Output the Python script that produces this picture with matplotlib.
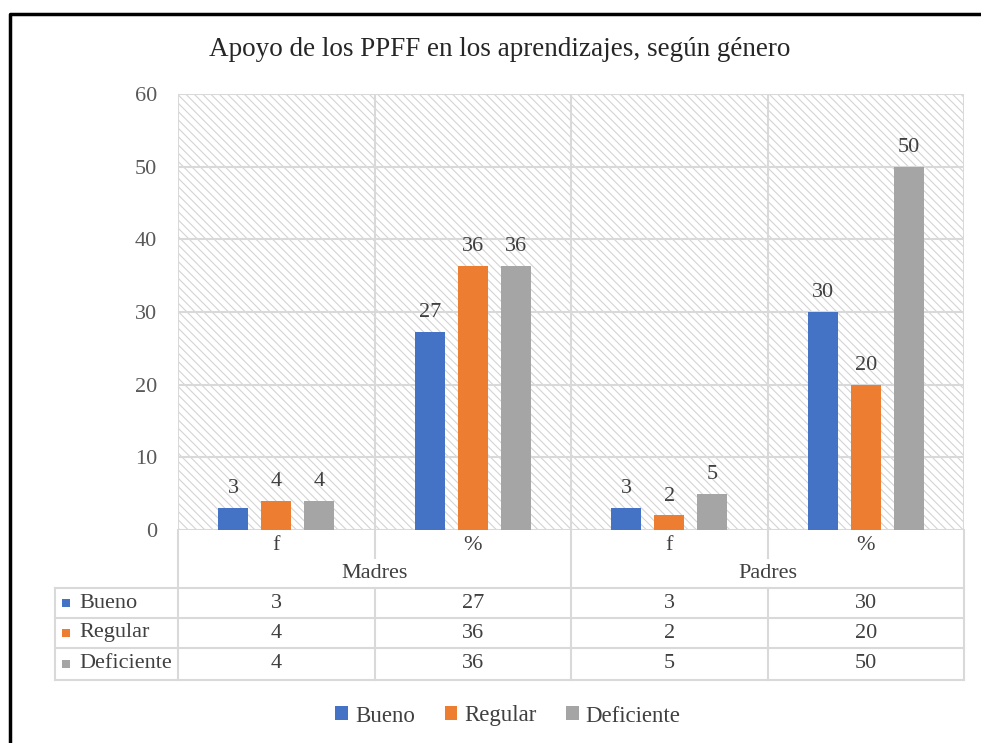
import matplotlib
matplotlib.use("Agg")
import matplotlib.pyplot as plt
from matplotlib.lines import Line2D
from matplotlib.patches import Rectangle
import numpy as np

# ---------------------------------------------------------------------------
# Data
# ---------------------------------------------------------------------------
groups = ["Madres", "Padres"]
measures = ["f", "%"]
series = ["Bueno", "Regular", "Deficiente"]
bueno = [3, 27.27, 3, 30]
regular = [4, 36.36, 2, 20]
deficiente = [4, 36.36, 5, 50]
colors = ["#4472C4", "#ED7D31", "#A5A5A5"]
title = "Apoyo de los PPFF en los aprendizajes, según género"

values = [bueno, regular, deficiente]
categories = [m for _ in groups for m in measures]

W, H = 981, 743
plt.rcParams["font.family"] = ["Liberation Serif", "DejaVu Serif"]
plt.rcParams["hatch.color"] = "#d4d4d4"
plt.rcParams["hatch.linewidth"] = 0.8

fig = plt.figure(figsize=(W / 100, H / 100), dpi=100)


def fx(x):
    return x / W


def fy(y):
    return 1 - y / H


# plot area in pixels
L, R, T, B = 178, 964, 94, 530
ax = fig.add_axes([fx(L), fy(B), fx(R - L), fy(T) - fy(B)])
ax.set_xlim(0, len(categories))
ax.set_ylim(0, 60)

# hatched background
ax.add_patch(Rectangle((0, 0), 1, 1, transform=ax.transAxes, facecolor="white",
                       hatch="\\\\\\\\", edgecolor="#d4d4d4", linewidth=0, zorder=0))

grid_c = "#d9d9d9"
for yv in range(0, 61, 10):
    ax.axhline(yv, color=grid_c, lw=1.5, zorder=1)
for xv in range(0, len(categories) + 1):
    ax.axvline(xv, color=grid_c, lw=1.5, zorder=1)

bar_w = 0.1525
step = 0.2185
x = np.arange(len(categories)) + 0.5
for i, (vals, col) in enumerate(zip(values, colors)):
    pos = x + (i - 1) * step
    ax.bar(pos, vals, width=bar_w, color=col, zorder=2)
    for px_, v in zip(pos, vals):
        ax.annotate(f"{v:.0f}", (px_, v), xytext=(0, 7), textcoords="offset points",
                    ha="center", va="bottom", fontsize=16, color="#404040")

for s in ax.spines.values():
    s.set_visible(False)
ax.set_xticks([])
ax.set_yticks(range(0, 61, 10))
ax.tick_params(axis="y", length=0, pad=15, labelsize=16, labelcolor="#595959")

# title
fig.text(fx(500), fy(49), title, ha="center", va="center", fontsize=19.5, color="#262626")

# ---------------------------------------------------------------------------
# Data table under the axis
# ---------------------------------------------------------------------------
col_w = (R - L) / len(categories)
tbl_left = 55
rows_y = [588, 618, 648, 680]
txt_c = "#404040"


def hline(x0, x1, y):
    fig.add_artist(Line2D([fx(x0), fx(x1)], [fy(y), fy(y)], color=grid_c, lw=1.5))


def vline(xv, y0, y1):
    fig.add_artist(Line2D([fx(xv), fx(xv)], [fy(y0), fy(y1)], color=grid_c, lw=1.5))


for y in rows_y:
    hline(tbl_left, R, y)
vline(tbl_left, rows_y[0], rows_y[-1])
for j in range(len(categories) + 1):
    xv = L + j * col_w
    if j % len(measures) == 0:
        vline(xv, B, rows_y[-1])
    else:
        vline(xv, B, 558)
        vline(xv, rows_y[0], rows_y[-1])

for j, cat in enumerate(categories):
    fig.text(fx(L + (j + 0.5) * col_w), fy(546), cat, ha="center", va="center",
             fontsize=16, color=txt_c)
for g, name in enumerate(groups):
    gx = L + (g + 0.5) * len(measures) * col_w
    fig.text(fx(gx), fy(574), name, ha="center", va="center", fontsize=16, color=txt_c)

for r, (name, vals, col) in enumerate(zip(series, values, colors)):
    yc = (rows_y[r] + rows_y[r + 1]) / 2
    fig.add_artist(Rectangle((fx(62), fy(yc + 4)), fx(8), fy(yc - 4) - fy(yc + 4),
                             facecolor=col, edgecolor="none"))
    fig.text(fx(79), fy(yc), name, ha="left", va="center", fontsize=16, color=txt_c)
    for j, v in enumerate(vals):
        fig.text(fx(L + (j + 0.5) * col_w), fy(yc), f"{v:.0f}", ha="center",
                 va="center", fontsize=16, color=txt_c)

# legend
handles = [Rectangle((0, 0), 1, 1, facecolor=c, edgecolor="none") for c in colors]
fig.legend(handles, series, loc="center", bbox_to_anchor=(fx(508), fy(716)), ncol=3,
           frameon=False, fontsize=16.5, handlelength=0.55, handleheight=0.55,
           handletextpad=0.3, columnspacing=1.3, labelcolor=txt_c)

# outer frame (only top and left edges visible)
fig.add_artist(Line2D([fx(10), fx(10), 1], [0, fy(14), fy(14)], color="black", lw=2.5))

fig.savefig("out.png", dpi=100)
